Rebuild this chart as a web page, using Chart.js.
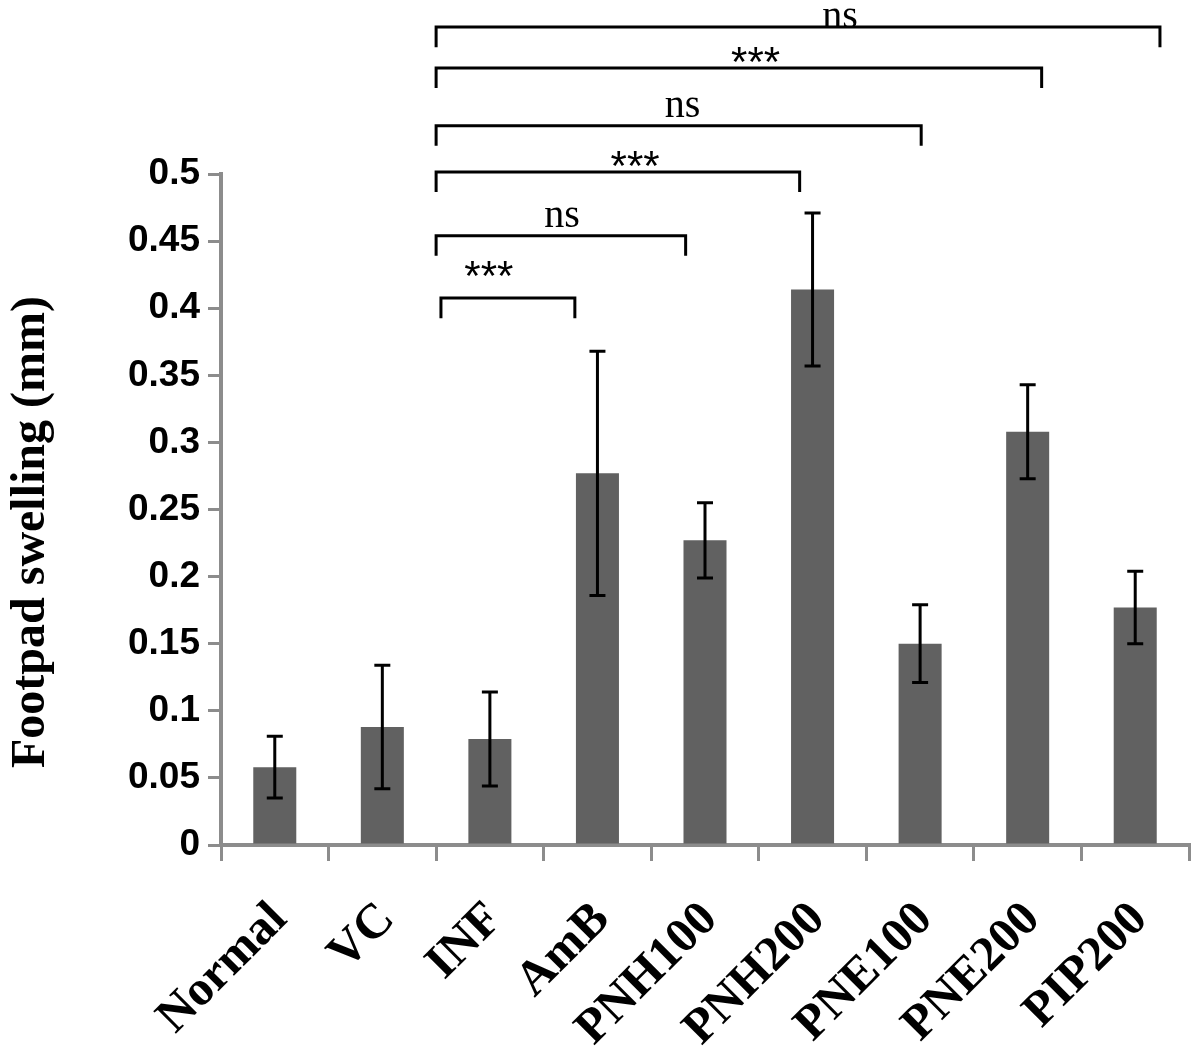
<!DOCTYPE html>
<html>
<head>
<meta charset="utf-8">
<script src="https://cdn.jsdelivr.net/npm/chart.js@4"></script>
<style>
  html, body { margin: 0; padding: 0; background: #fff; }
  #wrap { width: 1200px; height: 1053px; }
</style>
</head>
<body>
<div id="wrap"><canvas id="c"></canvas></div>
<script>
/* footpad swelling bar chart with SD whiskers and significance brackets */
const categories = ['Normal', 'VC', 'INF', 'AmB', 'PNH100', 'PNH200', 'PNE100', 'PNE200', 'PIP200'];
const means  = [0.058, 0.088, 0.079, 0.277, 0.227, 0.414, 0.150, 0.308, 0.177];
const errors = [0.023, 0.046, 0.035, 0.091, 0.028, 0.057, 0.029, 0.035, 0.027];

// y-axis ticks
const yMin = 0, yMax = 0.5, yStep = 0.05;

// significance brackets (x in category index units, y in mm)
const bracketFrom  = [1.545, 1.5, 1.5, 1.5, 1.5, 1.5];
const bracketTo    = [2.79, 3.82, 4.88, 6.01, 7.13, 8.23];
const bracketY     = [0.4076, 0.454, 0.5015, 0.536, 0.579, 0.6095];
const bracketText  = ['***', 'ns', '***', 'ns', '***', 'ns'];
const bracketTextX = [1.99, 2.67, 3.35, 3.79, 4.47, 5.255];
const bracketTextY = [0.423, 0.4605, 0.505, 0.5425, 0.583, 0.609];
const bracketDrop  = 0.015;

const yTitle = 'Footpad swelling (mm)';

const AXIS = '#8c8c8c';
const BAR = '#616161';

const overlay = {
  id: 'overlay',
  afterDraw(chart) {
    const { ctx, scales: { x, y } } = chart;
    const step = x.getPixelForValue(1) - x.getPixelForValue(0);
    const px = v => x.getPixelForValue(0) + v * step;
    ctx.save();
    ctx.strokeStyle = '#000';
    ctx.fillStyle = '#000';
    ctx.lineWidth = 3;

    // error bars
    means.forEach((m, i) => {
      const cx = x.getPixelForValue(i);
      const top = y.getPixelForValue(m + errors[i]);
      const bot = y.getPixelForValue(m - errors[i]);
      ctx.beginPath();
      ctx.moveTo(cx, top); ctx.lineTo(cx, bot);
      ctx.moveTo(cx - 8, top); ctx.lineTo(cx + 8, top);
      ctx.moveTo(cx - 8, bot); ctx.lineTo(cx + 8, bot);
      ctx.stroke();
    });

    // brackets
    bracketY.forEach((v, i) => {
      const yy = y.getPixelForValue(v);
      const yd = y.getPixelForValue(v - bracketDrop);
      const x0 = px(bracketFrom[i]), x1 = px(bracketTo[i]);
      ctx.beginPath();
      ctx.moveTo(x0, yd); ctx.lineTo(x0, yy); ctx.lineTo(x1, yy); ctx.lineTo(x1, yd);
      ctx.stroke();

      const t = bracketText[i];
      ctx.font = t === 'ns' ? '40px "Liberation Serif"' : '42px "Liberation Sans"';
      ctx.textAlign = 'center';
      ctx.textBaseline = 'alphabetic';
      const m = ctx.measureText(t);
      const bottom = y.getPixelForValue(bracketTextY[i]);
      ctx.fillText(t, px(bracketTextX[i]), bottom - m.actualBoundingBoxDescent);
    });

    // rotated category labels
    ctx.font = 'bold 49px "Liberation Serif"';
    ctx.textAlign = 'right';
    ctx.textBaseline = 'middle';
    categories.forEach((c, i) => {
      ctx.save();
      ctx.translate(x.getPixelForValue(i) + 5, 912);
      ctx.rotate(-Math.PI / 4);
      ctx.fillText(c, 0, 0);
      ctx.restore();
    });

    // y title
    ctx.font = 'bold 48px "Liberation Serif"';
    ctx.textAlign = 'center';
    ctx.textBaseline = 'middle';
    ctx.translate(32, 532);
    ctx.rotate(-Math.PI / 2);
    ctx.fillText(yTitle, 0, 0);
    ctx.restore();
  }
};

new Chart(document.getElementById('c').getContext('2d'), {
  type: 'bar',
  data: {
    labels: categories,
    datasets: [{
      data: means,
      backgroundColor: BAR,
      borderWidth: 0,
      barPercentage: 0.4,
      categoryPercentage: 1.0,
    }],
  },
  options: {
    responsive: true, maintainAspectRatio: false,
    animation: false,
    devicePixelRatio: 1,
    layout: { padding: { top: 174, right: 11, left: 0, bottom: 0 } },
    plugins: { legend: { display: false }, tooltip: { enabled: false } },
    scales: {
      x: {
        afterFit(s) { s.height = 208; },
        ticks: { display: false },
        grid: { drawOnChartArea: false, drawTicks: true, tickLength: 16, color: AXIS, lineWidth: 3, offset: true },
        border: { color: AXIS, width: 4 },
      },
      y: {
        min: yMin, max: yMax,
        afterFit(s) { s.width = 221; },
        ticks: {
          stepSize: yStep,
          padding: 8,
          color: '#000',
          font: { family: '"Liberation Sans"', weight: 'bold', size: 37 },
          callback: v => String(Number(v.toFixed(2))),
        },
        grid: { drawOnChartArea: false, drawTicks: true, tickLength: 13, color: AXIS, lineWidth: 3 },
        border: { color: AXIS, width: 4 },
      },
    },
  },
  plugins: [overlay],
});
</script>
</body>
</html>
